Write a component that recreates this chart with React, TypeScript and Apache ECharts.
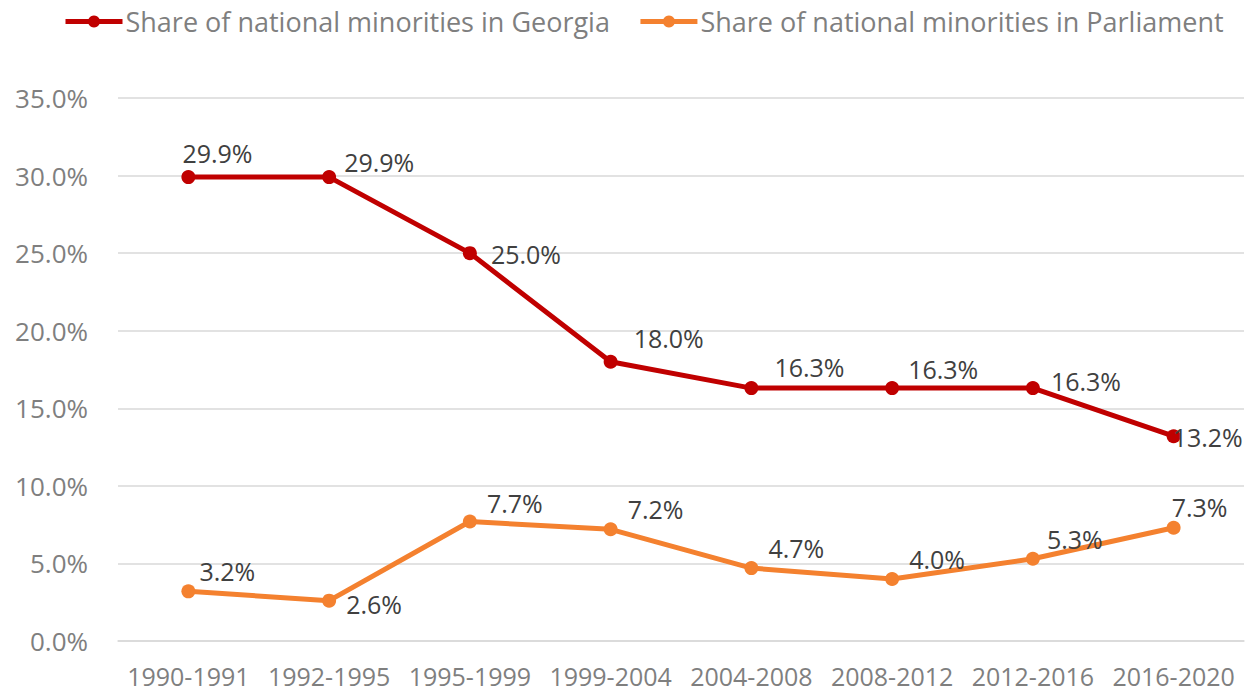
import React, { useEffect, useRef } from "react";
import * as echarts from "echarts";

const categories = ["1990-1991", "1992-1995", "1995-1999", "1999-2004", "2004-2008", "2008-2012", "2012-2016", "2016-2020"];
const georgiaShare = [29.9, 29.9, 25.0, 18.0, 16.3, 16.3, 16.3, 13.2];
const parliamentShare = [3.2, 2.6, 7.7, 7.2, 4.7, 4.0, 5.3, 7.3];
const yTicks = { min: 0, max: 35, interval: 5 };

// label offsets (style only) relative to each point
const georgiaLabelOffsets: [number, number][] = [[-6, -24], [15, -15], [21, 1], [23, -24], [23, -21], [16, -19], [18, -7], [-1, 1]];
const parliamentLabelOffsets: [number, number][] = [[11, -20], [17, 3], [17, -19], [17, -20], [17, -20], [17, -20], [14, -20], [-2, -21]];

const FONT = "'Open Sans', sans-serif";

export default function App() {
  const ref = useRef<HTMLDivElement>(null);
  useEffect(() => {
    if (!ref.current) return;
    const chart = echarts.init(ref.current, undefined, { renderer: "svg" });
    const mk = (vals: number[], offs: [number, number][]) =>
      vals.map((v, i) => ({
        value: v,
        label: {
          show: true,
          position: "inside",
          align: "left",
          verticalAlign: "middle",
          offset: offs[i],
          formatter: (p: any) => Number(p.value).toFixed(1) + "%",
          color: "#404040",
          fontSize: 25,
          fontFamily: FONT,
        },
      }));
    chart.setOption({
      animation: false,
      backgroundColor: "#ffffff",
      textStyle: { fontFamily: FONT },
      legend: {
        left: 58,
        top: 3,
        itemWidth: 57,
        itemHeight: 15,
        itemGap: 28,
        lineStyle: { width: 5 },
        textStyle: { fontSize: 27, color: "#7f7f7f", fontFamily: FONT, padding: [0, 0, 0, -2] },
        data: ["Share of national minorities in Georgia", "Share of national minorities in Parliament"],
      },
      grid: { left: 118, right: 7, top: 98, bottom: 57, containLabel: false },
      xAxis: {
        type: "category",
        data: categories,
        boundaryGap: true,
        axisLine: { show: true, lineStyle: { color: "#d9d9d9", width: 1.5 } },
        axisTick: { show: false },
        axisLabel: { color: "#7f7f7f", fontSize: 25, fontFamily: FONT, margin: 22, interval: 0 },
      },
      yAxis: {
        type: "value",
        min: yTicks.min,
        max: yTicks.max,
        interval: yTicks.interval,
        axisLine: { show: false },
        axisTick: { show: false },
        splitLine: { lineStyle: { color: "#d9d9d9", width: 1.5 } },
        axisLabel: {
          color: "#7f7f7f",
          fontSize: 26,
          fontFamily: FONT,
          margin: 30,
          formatter: (v: number) => v.toFixed(1) + "%",
        },
      },
      series: [
        {
          name: "Share of national minorities in Georgia",
          type: "line",
          data: mk(georgiaShare, georgiaLabelOffsets),
          color: "#C00000",
          lineStyle: { width: 5, color: "#C00000" },
          itemStyle: { color: "#C00000" },
          symbol: "circle",
          symbolSize: 14,
          z: 3,
        },
        {
          name: "Share of national minorities in Parliament",
          type: "line",
          data: mk(parliamentShare, parliamentLabelOffsets),
          color: "#F4812F",
          lineStyle: { width: 5, color: "#F4812F" },
          itemStyle: { color: "#F4812F" },
          symbol: "circle",
          symbolSize: 14,
          z: 2,
        },
      ],
    });
    return () => chart.dispose();
  }, []);
  return <div ref={ref} style={{ width: 1251, height: 698, position: "absolute", left: 0, top: 0 }} />;
}
